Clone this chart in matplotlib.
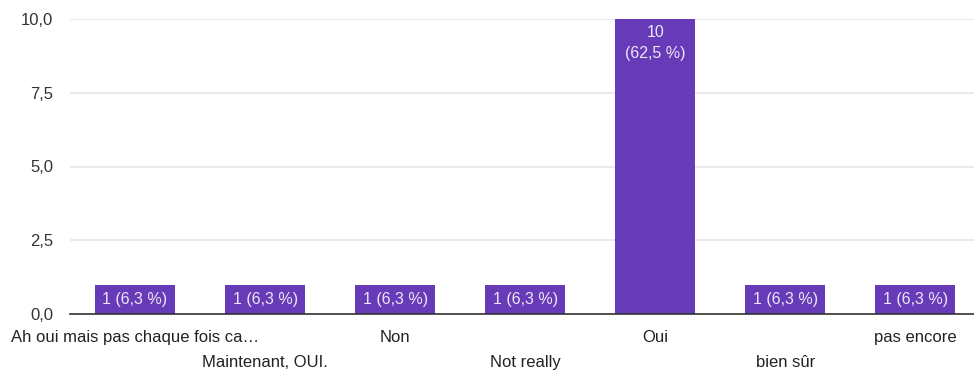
import matplotlib.pyplot as plt

plt.rcParams['font.family'] = ['Liberation Sans', 'DejaVu Sans']

# Survey answers and counts
categories = ["Ah oui mais pas chaque fois ca…", "Maintenant, OUI.", "Non", "Not really",
              "Oui", "bien sûr", "pas encore"]
counts = [1, 1, 1, 1, 10, 1, 1]
percents = ["6,3", "6,3", "6,3", "6,3", "62,5", "6,3", "6,3"]
yticks = [0, 2.5, 5, 7.5, 10]
ytick_labels = ["0,0", "2,5", "5,0", "7,5", "10,0"]

fig = plt.figure(figsize=(9.74, 3.76), dpi=100)
ax = fig.add_axes([70 / 974, 1 - 314 / 376, 904 / 974, 295 / 376])

x = list(range(len(categories)))
ax.bar(x, counts, width=0.615, color="#673ab7", zorder=3)

# value labels inside bars
for i, (c, p) in enumerate(zip(counts, percents)):
    if c >= 5:
        ax.text(i, c - 0.22, f"{c}\n({p} %)", ha="center", va="top",
                color="#ece6f6", fontsize=11.5, linespacing=1.5, zorder=4)
    else:
        ax.text(i, c / 2, f"{c} ({p} %)", ha="center", va="center",
                color="#ece6f6", fontsize=11.5, zorder=4)

ax.set_xlim(-0.5, 6.45)
ax.set_ylim(0, 10)
ax.set_yticks(yticks)
ax.set_yticklabels(ytick_labels, fontsize=12, color="#333333")
ax.yaxis.grid(True, color="#e8e8e8", linewidth=1.3, zorder=0)
ax.tick_params(axis="y", length=0, pad=12)
ax.tick_params(axis="x", length=0)
ax.set_xticks([])

# category labels staggered over two rows
for i, cat in enumerate(categories):
    y_off = -0.55 if i % 2 == 0 else -1.38
    ax.text(i, y_off, cat, ha="center", va="top", fontsize=12, color="#222222",
            clip_on=False)

for side in ["top", "right", "left"]:
    ax.spines[side].set_visible(False)
ax.spines["bottom"].set_color("#333333")
ax.spines["bottom"].set_linewidth(1.2)
ax.spines["bottom"].set_zorder(5)

plt.savefig("out.png", dpi=100)
